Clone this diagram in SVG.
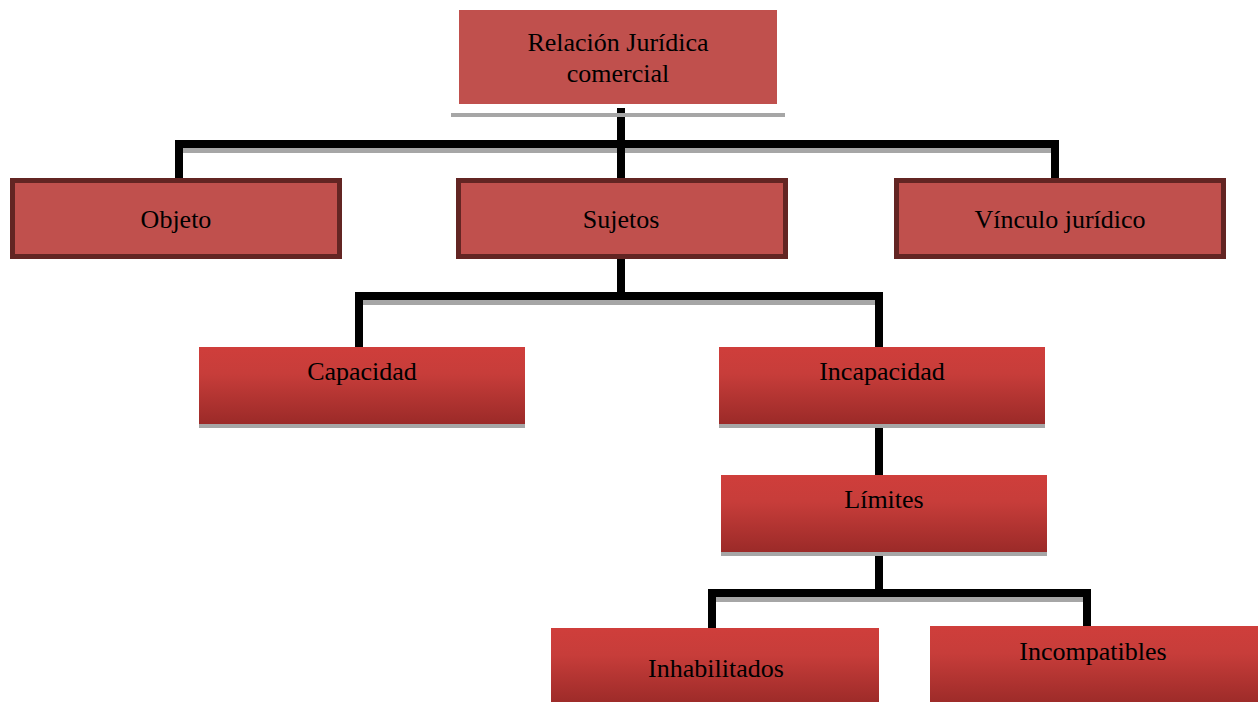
<svg xmlns="http://www.w3.org/2000/svg" width="1259" height="702" viewBox="0 0 1259 702">
<defs>
<linearGradient id="g" x1="0" y1="0" x2="0" y2="1">
<stop offset="0" stop-color="#cf3e3b"/>
<stop offset="0.35" stop-color="#c73d3a"/>
<stop offset="1" stop-color="#9b2a28"/>
</linearGradient>
</defs>
<style>
.t{font-family:"Liberation Serif","Times New Roman",serif;font-size:26px;fill:#000;text-anchor:middle}
.dark{fill:#c0504d;stroke:#632523;stroke-width:5}
.grad{fill:url(#g)}
.sh{fill:#a6a6a6}
.ln{fill:none;stroke:#000;stroke-width:8;stroke-linejoin:miter;stroke-linecap:butt}
.lnsh{fill:none;stroke:#a6a6a6;stroke-width:8;stroke-linejoin:miter}
</style>
<rect width="1259" height="702" fill="#fff"/>
<g id="connectors">
<g transform="translate(0,5)">
<path class="lnsh" d="M179,183 V144 H1055 V183"/>
<path class="lnsh" d="M359,348 V296 H879 V348"/>
<path class="lnsh" d="M712,628 V593 H1087 V620"/>
</g>
<path class="ln" d="M621,108 V183"/>
<path class="ln" d="M179,183 V144 H1055 V183"/>
<path class="ln" d="M621,259 V296"/>
<path class="ln" d="M359,348 V296 H879 V348"/>
<path class="ln" d="M879,424 V475"/>
<path class="ln" d="M879,556 V593"/>
<path class="ln" d="M712,632 V593 H1087 V626"/>
</g>
<g id="n-relacion">
<rect class="sh" x="451" y="113" width="334" height="4"/>
<rect x="459" y="10" width="318" height="94" fill="#c0504d"/>
<text class="t" x="618" y="51">Relación Jurídica</text>
<text class="t" x="618" y="82">comercial</text>
</g>
<g id="n-objeto">
<rect class="dark" x="12.5" y="180.5" width="327" height="76"/>
<text class="t" x="176" y="228">Objeto</text>
</g>
<g id="n-sujetos">
<rect class="dark" x="458.5" y="180.5" width="327" height="76"/>
<text class="t" x="621" y="228">Sujetos</text>
</g>
<g id="n-vinculo">
<rect class="dark" x="896.5" y="180.5" width="327" height="76"/>
<text class="t" x="1060" y="228">Vínculo jurídico</text>
</g>
<g id="n-capacidad">
<rect class="sh" x="199" y="424" width="326" height="4"/>
<rect class="grad" x="199" y="347" width="326" height="77"/>
<text class="t" x="362" y="380">Capacidad</text>
</g>
<g id="n-incapacidad">
<rect class="sh" x="719" y="424" width="326" height="4"/>
<rect class="grad" x="719" y="347" width="326" height="77"/>
<text class="t" x="882" y="380">Incapacidad</text>
</g>
<g id="n-limites">
<rect class="sh" x="721" y="552" width="326" height="4"/>
<rect class="grad" x="721" y="475" width="326" height="77"/>
<text class="t" x="884" y="508">Límites</text>
</g>
<g id="n-inhabilitados">
<rect class="grad" x="551" y="628" width="328" height="77"/>
<text class="t" x="716" y="677">Inhabilitados</text>
</g>
<g id="n-incompatibles">
<rect class="grad" x="930" y="626" width="328" height="79"/>
<text class="t" x="1093" y="660">Incompatibles</text>
</g>
</svg>
